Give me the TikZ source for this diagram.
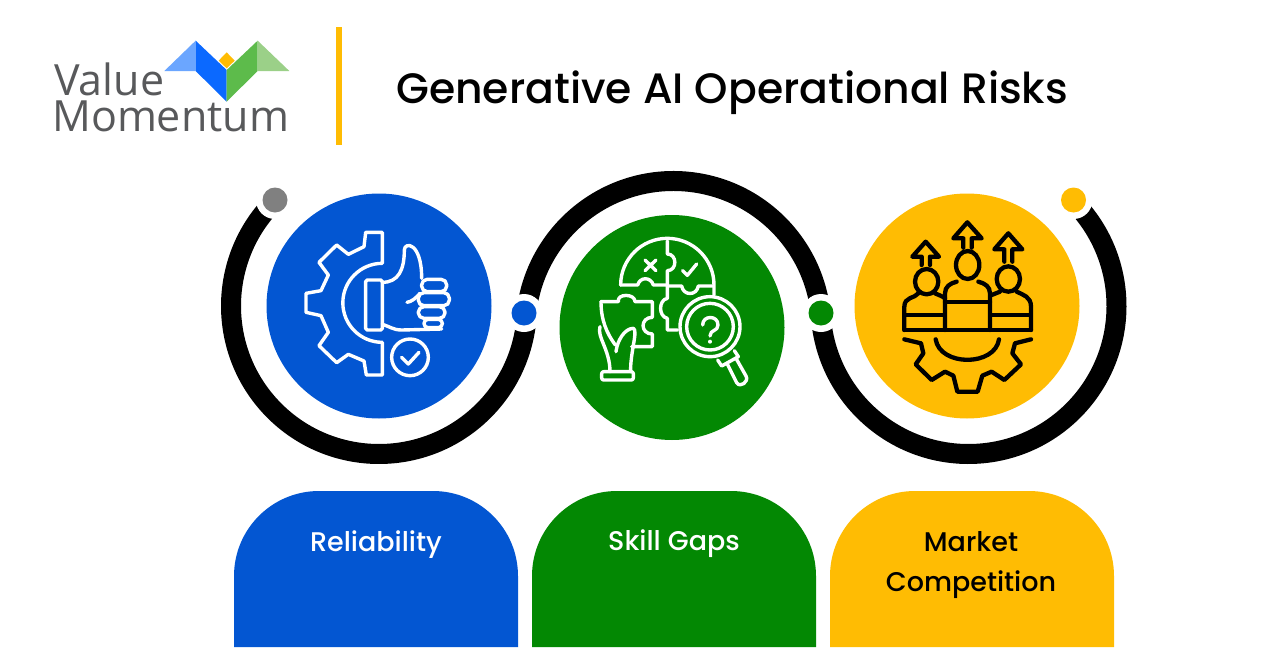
\documentclass[tikz,border=0pt]{standalone}
\usepackage{xcolor}
\usepackage{fontspec}
\usepackage{tikz}
\usetikzlibrary{positioning}
\setmainfont{Poppins}
\newfontfamily\titlefont{Poppins Medium}
\newfontfamily\logofont{Open Sans}
\definecolor{vmBlue}{HTML}{0356D2}
\definecolor{vmGreen}{HTML}{038803}
\definecolor{vmYellow}{HTML}{FFBC03}
\definecolor{vmGray}{HTML}{808080}
\definecolor{logoText}{HTML}{58595B}

\begin{document}
\begin{tikzpicture}
  [
    x=1pt, y=1pt, yscale=-1,
    Ring/.style={draw=black, line width=20pt},
    Halo/.style={circle, fill=white, minimum size=38pt, inner sep=0pt},
    Dot/.style={circle, minimum size=25pt, inner sep=0pt},
    Disc/.style={circle, minimum size=225pt, inner sep=0pt},
    Card/.style={inner sep=0pt, anchor=base, align=center, font=\titlefont\fontsize{27}{40}\selectfont},
    WhiteIcon/.style={draw=white, line width=3.4pt, line join=round, line cap=round},
    BlackIcon/.style={draw=black, line width=4.3pt, line join=round, line cap=round}
  ]
  \useasboundingbox (0,0) rectangle (1280,672);

  % Logo
  \begin{scope}[shift={(30,20)}, scale=1/3]
    \fill[fill={rgb,255:red,107;green,166;blue,255}] (403,153) -- (497,62) -- (497,153) -- cycle;
    \fill[fill={rgb,255:red,11;green,105;blue,255}] (497,62) -- (590,150) -- (590,245) -- (497,153) -- cycle;
    \fill[fill={rgb,255:red,93;green,187;blue,75}] (590,150) -- (683,62) -- (683,153) -- (590,245) -- cycle;
    \fill[fill={rgb,255:red,155;green,208;blue,136}] (683,62) -- (778,153) -- (683,153) -- cycle;
    \fill[vmYellow] (590,97) -- (614,122) -- (590,145) -- (566,122) -- cycle;
  \end{scope}
  \node[anchor=base west, inner sep=0pt, text=logoText, font=\logofont\fontsize{43}{43}\selectfont] (value) at (54,95) {Value};
  \node[anchor=base west, inner sep=0pt, text=logoText, font=\logofont\fontsize{43}{43}\selectfont] (momentum) at (52,131) {Momentum};
  \fill[vmYellow] (336,27) rectangle (342,145);

  % Title
  \node[anchor=base west, inner sep=0pt, font=\titlefont\fontsize{42.5}{42.5}\selectfont] (title) at (396,103) {Generative AI Operational Risks};

  % Rings
  \draw[Ring] (379,306) ++(-134.5:148) arc (-134.5:-357:148);
  \draw[Ring] (673.5,329) ++(-174:148) arc (-174:-6:148);
  \draw[Ring] (968.5,306) ++(-182.7:148) arc (-182.7:-405.5:148);

  % Nodes
  \node[Halo] (h1) at (275,200) {};
  \node[Halo] (h2) at (524,313) {};
  \node[Halo] (h3) at (821,313) {};
  \node[Halo] (h4) at (1073.5,200) {};
  \node[Dot, fill=vmGray] (d1) at (275,200) {};
  \node[Dot, fill=vmBlue] (d2) at (524,313) {};
  \node[Dot, fill=vmGreen] (d3) at (821,313) {};
  \node[Dot, fill=vmYellow] (d4) at (1073.5,200) {};

  \node[Disc, fill=vmBlue] (c1) at (379,306) {};
  \node[Disc, fill=vmGreen] (c2) at (672,327.5) {};
  \node[Disc, fill=vmYellow] (c3) at (967,306) {};

  % Gear and thumb
  \begin{scope}[shift={(295,225)}, scale=1/3]
    \draw[WhiteIcon] (262,115) -- (262,22) -- (212,22) -- (207,65) -- (160,88) -- (125,60) -- (72,112) -- (100,150) -- (78,197) -- (33,205) -- (33,262) -- (78,272) -- (100,322) -- (72,362) -- (125,413) -- (160,388) -- (207,408) -- (214,450) -- (262,450) -- (262,352) arc (90:270:118.5);
    \draw[WhiteIcon, rounded corners=1.5pt] (212,165) rectangle (262,315);
    \draw[WhiteIcon] (262,172) .. controls (310,172) and (328,135) .. (328,75) .. controls (328,50) and (380,50) .. (380,160);
    \draw[WhiteIcon] (262,298) .. controls (285,305) and (295,315) .. (320,315) -- (440,312);
    \draw[WhiteIcon] (336,232) .. controls (350,230) and (362,220) .. (375,205);
    \draw[WhiteIcon, rounded corners=5.5pt] (380,163) rectangle (455,200);
    \draw[WhiteIcon, rounded corners=5.5pt] (370,203) rectangle (463,242);
    \draw[WhiteIcon, rounded corners=5.5pt] (370,245) rectangle (450,280);
    \draw[WhiteIcon, rounded corners=4pt] (387,283) rectangle (442,308);
    \draw[WhiteIcon] (345,397) circle (55);
    \draw[WhiteIcon] (320,397) -- (340,417) -- (372,382);
  \end{scope}

  % Puzzle and lens
  \begin{scope}[shift={(590,230)}, scale=1/3]
    \draw[WhiteIcon] (92,165) arc (180:360:140) -- (372,195);
    \draw[WhiteIcon] (92,165) -- (143,165) .. controls (150,140) and (182,140) .. (190,165) -- (232,165);
    \draw[WhiteIcon] (232,33) -- (232,72) .. controls (262,72) and (262,122) .. (232,122) -- (232,205) .. controls (205,210) and (205,260) .. (232,265) -- (232,300) -- (262,300);
    \draw[WhiteIcon] (232,168) -- (275,168) .. controls (280,198) and (320,198) .. (325,168) -- (368,168);
    \draw[WhiteIcon] (165,90) -- (198,122) (198,90) -- (165,122);
    \draw[WhiteIcon] (278,122) -- (292,136) -- (320,102);
    \draw[WhiteIcon] (360,290) circle (90);
    \draw[WhiteIcon] (360,290) circle (70);
    \draw[WhiteIcon] (338,285) .. controls (338,255) and (384,255) .. (384,285) .. controls (384,305) and (360,298) .. (360,318);
    \fill[white] (360,335) circle (6);
    \draw[WhiteIcon] (383,390) -- (395,408) -- (445,380) -- (433,362);
    \draw[WhiteIcon] (412,402) -- (440,458) .. controls (450,475) and (478,455) .. (468,438) -- (438,385);
    \draw[WhiteIcon] (33,215) -- (85,215) .. controls (80,190) and (135,190) .. (135,215) -- (187,215) -- (187,262) .. controls (150,262) and (150,312) .. (187,312) -- (187,350) -- (125,350);
    \draw[WhiteIcon] (33,215) .. controls (33,270) and (50,310) .. (76,345);
    \draw[WhiteIcon] (30,290) .. controls (20,320) and (60,360) .. (60,425);
    \draw[WhiteIcon] (78,365) .. controls (82,330) and (105,295) .. (130,295) .. controls (145,300) and (120,370) .. (122,425);
    \draw[WhiteIcon, rounded corners=2pt] (35,425) rectangle (130,450);
  \end{scope}

  % People and gear
  \begin{scope}[shift={(895,215)}, scale=1/3]
    \draw[BlackIcon] (28,345) -- (408,345);
    \draw[BlackIcon] (28,345) -- (28,275) .. controls (28,245) and (60,250) .. (70,235);
    \draw[BlackIcon] (120,235) .. controls (130,240) and (140,242) .. (150,250);
    \draw[BlackIcon] (32,300) -- (148,300);
    \draw[BlackIcon] (95,200) ellipse (35 and 38);
    \draw[BlackIcon] (150,345) -- (150,235) .. controls (150,215) and (165,205) .. (185,200);
    \draw[BlackIcon] (250,200) .. controls (270,205) and (285,215) .. (285,235) -- (285,345);
    \draw[BlackIcon] (150,260) -- (285,260);
    \draw[BlackIcon] (218,150) ellipse (35 and 42);
    \draw[BlackIcon] (340,192) ellipse (35 and 38);
    \draw[BlackIcon] (285,242) -- (315,230);
    \draw[BlackIcon] (365,230) .. controls (385,240) and (408,245) .. (408,275) -- (408,345);
    \draw[BlackIcon] (288,300) -- (405,300);
    \draw[BlackIcon] (80,150) -- (80,125) -- (52,125) -- (92,80) -- (132,125) -- (105,125) -- (105,150);
    \draw[BlackIcon] (205,98) -- (205,70) -- (175,70) -- (217,22) -- (260,70) -- (230,70) -- (230,98);
    \draw[BlackIcon] (328,140) -- (328,103) -- (298,103) -- (340,55) -- (382,103) -- (352,103) -- (352,140);
    \draw[BlackIcon] (28,373) -- (78,385) -- (85,415) -- (62,448) -- (110,495) -- (150,470) -- (175,482) -- (187,530) -- (248,530) -- (262,482) -- (290,470) -- (328,495) -- (378,448) -- (352,415) -- (360,385) -- (408,373);
    \draw[BlackIcon] (122,373) .. controls (135,455) and (300,455) .. (312,373);
  \end{scope}

  % Cards
  \fill[vmBlue] (234,647) -- (234,576) arc (180:270:85) -- (433,491) arc (270:360:85) -- (518,647) -- cycle;
  \fill[vmGreen] (532,647) -- (532,576) arc (180:270:85) -- (731,491) arc (270:360:85) -- (816,647) -- cycle;
  \fill[vmYellow] (830,647) -- (830,576) arc (180:270:85) -- (1029,491) arc (270:360:85) -- (1114,647) -- cycle;

  \node[Card, text=white] (reliability) at (376,551) {Reliability};
  \node[Card, text=white] (skills) at (674,550) {Skill Gaps};
  \node[Card, text=black] (market) at (971,591) {Market\\Competition};

\end{tikzpicture}
\end{document}
